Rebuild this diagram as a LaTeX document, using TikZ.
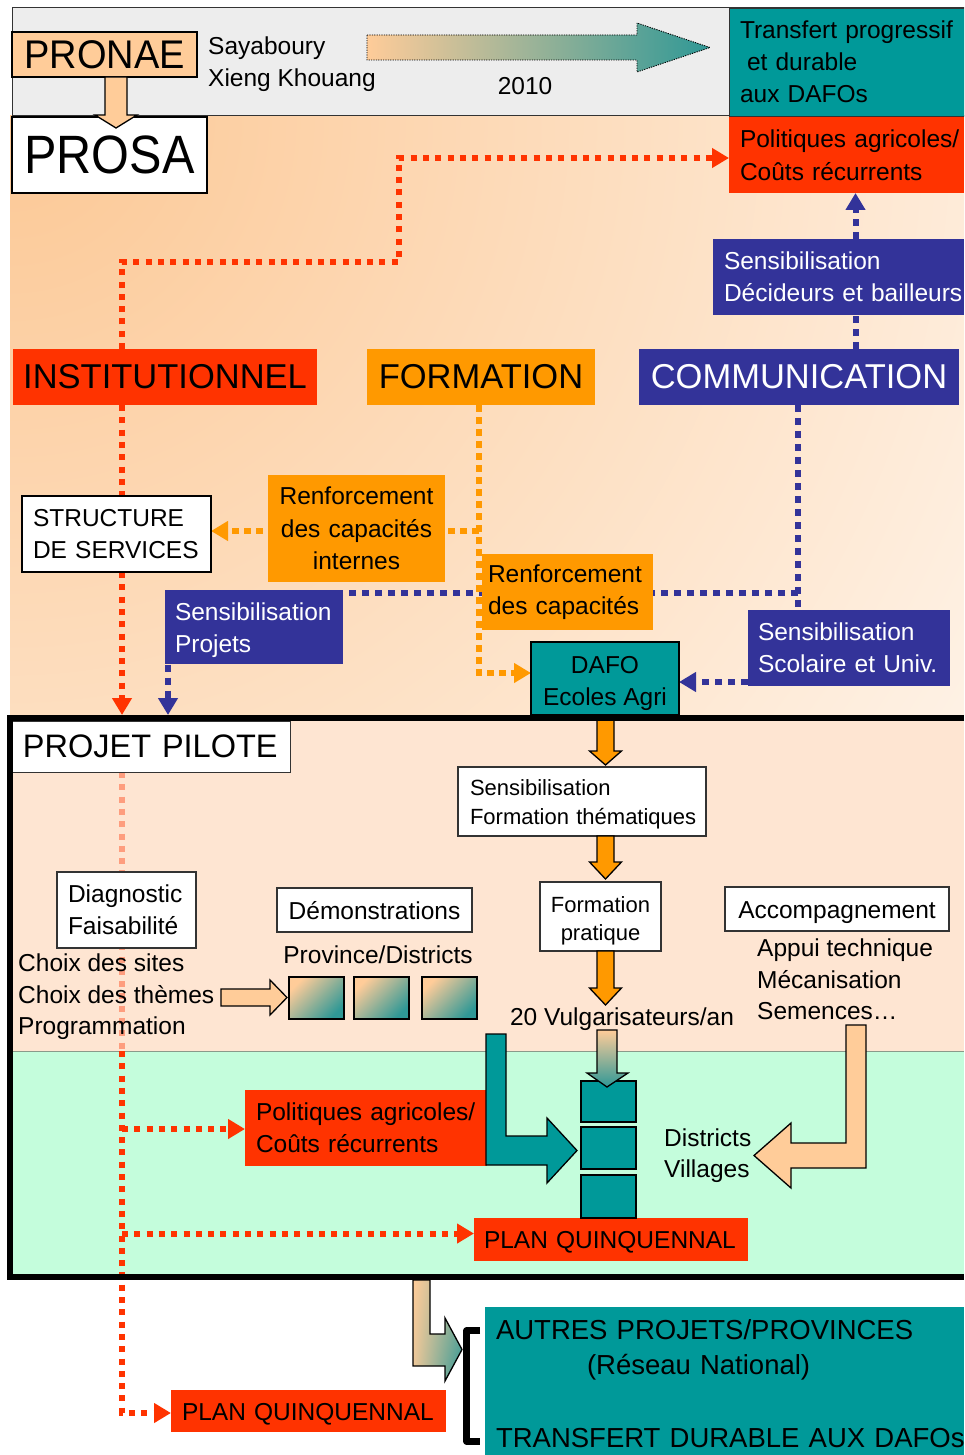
\documentclass[tikz,border=0pt]{standalone}
\usepackage{fontspec}
\usepackage{graphicx}
\setmainfont{Liberation Sans}
\usetikzlibrary{arrows.meta,shadings}
\pgfdeclarelayer{back}
\pgfdeclarelayer{lines}
\pgfsetlayers{back,lines,main}

\definecolor{cRed}{HTML}{FF3300}
\definecolor{cOrange}{HTML}{FF9900}
\definecolor{cBlue}{HTML}{333399}
\definecolor{cTeal}{HTML}{009999}
\definecolor{cPeach}{HTML}{FFCC99}
\definecolor{cBand}{HTML}{EDEDED}
\definecolor{cBgPeach}{HTML}{FCC895}
\definecolor{cPilotBg}{HTML}{FEE5D2}
\definecolor{cMint}{HTML}{C4FDDC}
\definecolor{cShadeTeal}{HTML}{2F9896}
\definecolor{cEdge}{HTML}{333333}
\definecolor{cSep}{HTML}{8A9A8A}

% font size with hyphenation switched off
\newcommand\setfs[2]{\fontsize{#1}{#2}\selectfont\hyphenpenalty=10000\exhyphenpenalty=10000\relax}

\tikzset{
  blk/.style 2 args={anchor=north west, inner sep=0pt, outer sep=0pt,
    minimum width=#1, minimum height=#2},
  bodytxt/.style={font=\setfs{24.5}{32}},
  oneline/.style={text height=18pt, text depth=0pt},
  lefttext/.style={align=left, text width=#1},
  whitebox/.style={fill=white, draw=cEdge, line width=1.2pt},
  dotline/.style={line width=6pt, dash pattern=on 6pt off 6.3pt},
  reddots/.style={dotline, draw=cRed},
  bluedots/.style={dotline, draw=cBlue, dash pattern=on 7pt off 6pt},
  orangedots/.style={dotline, draw=cOrange, line width=5.5pt, dash pattern=on 7pt off 5pt},
  endtip/.style={-{Triangle[length=17pt,width=19pt]}},
  blockarrow/.style={draw=black, line width=1.3pt},
  plotshade/.style={top color=cPeach, middle color=cPeach!72!cShadeTeal,
    bottom color=cShadeTeal, shading angle=45},
}

\begin{document}
\begin{tikzpicture}[x=1pt, y=-1pt]
\useasboundingbox (0,0) rectangle (964,1455);
\clip (0,0) rectangle (964,1455);

% ---------- backgrounds ----------
\begin{pgfonlayer}{back}
  \begin{scope}
    \clip (0,0) rectangle (964,1455);
    \fill[cBand] (12,8) rectangle (964,116);
    \begin{scope}
      \clip (10,116) rectangle (964,715);
      \shade[inner color=cBgPeach, outer color=white] (10,116) circle (1500pt);
    \end{scope}
    \fill[cPilotBg] (10,718) rectangle (964,1051);
    \fill[cMint] (10,1051) rectangle (964,1277);
    \draw[cSep, line width=1pt] (13,1051) -- (964,1051);
  \end{scope}
\end{pgfonlayer}
\draw[cEdge, line width=1pt] (12,8) rectangle (980,116);

% ---------- top band ----------
\node[blk={235pt}{108pt}, fill=cTeal, draw=cEdge, line width=.8pt, bodytxt, lefttext=213pt]
  (transf) at (729,8) {Transfert~progressif\\\hspace*{7pt}et~durable\\aux~DAFOs};
\node[blk={235pt}{76pt}, fill=cRed, font=\setfs{24.5}{33}, lefttext=213pt]
  (polTop) at (729,117) {Politiques~agricoles/\\Coûts~récurrents};
\node[blk={185pt}{45pt}, fill=cPeach, draw=black, line width=1.5pt, font=\setfs{40}{42}]
  (pronae) at (12,32) {\scalebox{0.95}[1]{PRONAE}};
\node[blk={195pt}{76pt}, fill=white, draw=black, line width=1.2pt, font=\setfs{54}{56}]
  (prosa) at (12,117) {\scalebox{0.9}[1]{PROSA}};
\filldraw[fill=cPeach, blockarrow] ([xshift=0.5pt]pronae.south) -- ++(22,0) -- ++(0,38)
  -- ++(10,0) -- ++(-21,13) -- ++(-21,-13) -- ++(10,0) -- cycle;
\node[anchor=north west, inner sep=0pt, bodytxt, align=left] (sites) at (208,37)
  {Sayaboury\\Xieng Khouang};
\shadedraw[left color=cPeach, right color=cShadeTeal, draw=black, line width=0.9pt,
  dash pattern=on 1.2pt off 1.2pt]
  (367,35) -- (637,35) -- (637,23) -- (710,47.5) -- (637,72) -- (637,60) -- (367,60) -- cycle;
\node[anchor=base, inner sep=0pt, bodytxt] (year) at (525,95) {2010};

% ---------- upper level ----------
\node[blk={251pt}{76pt}, fill=cBlue, text=white, bodytxt, lefttext=229pt]
  (sensD) at (713,239) {Sensibilisation\\Décideurs~et~bailleurs};
\node[blk={304pt}{56pt}, fill=cRed, font=\setfs{34.5}{36}] (inst) at (13,349) {INSTITUTIONNEL};
\node[blk={228pt}{56pt}, fill=cOrange, font=\setfs{34.5}{36}] (form) at (367,349) {FORMATION};
\node[blk={320pt}{56pt}, fill=cBlue, text=white, font=\setfs{34.5}{36}] (comm) at (639,349) {COMMUNICATION};
\node[blk={189pt}{76pt}, fill=white, draw=black, line width=1.2pt, bodytxt, lefttext=167pt]
  (struct) at (22,496) {STRUCTURE\\DE~SERVICES};
\node[blk={177pt}{107pt}, fill=cOrange, font=\setfs{24.5}{32.5}, align=center, text width=170pt]
  (renfI) at (268,475) {Renforcement\\des~capacités\\internes};
\node[blk={171pt}{76pt}, fill=cOrange, bodytxt, lefttext=159pt]
  (renf) at (482,554) {Renforcement\\des~capacités};
\node[blk={178pt}{74pt}, fill=cBlue, text=white, bodytxt, lefttext=158pt]
  (sensP) at (165,590) {\rule{0pt}{24pt}Sensibilisation\\Projets};
\node[blk={148pt}{73pt}, fill=cTeal, draw=black, line width=1.5pt, bodytxt, align=center]
  (dafo) at (531,642) {\rule{0pt}{28pt}DAFO\\Ecoles Agri};
\node[blk={202pt}{76pt}, fill=cBlue, text=white, bodytxt, lefttext=182pt]
  (sensS) at (748,610) {Sensibilisation\\Scolaire~et~Univ.};

% ---------- pilot project ----------
\node[blk={278pt}{51pt}, fill=white, draw=cEdge, line width=1pt, font=\setfs{32.5}{34}, lefttext=256pt]
  (pilotL) at (12,721) {PROJET~PILOTE};
\node[blk={248pt}{69pt}, whitebox, font=\setfs{22}{29}, lefttext=224pt]
  (sensF) at (458,767) {\rule{0pt}{22pt}Sensibilisation\\Formation~thématiques};
\node[blk={121pt}{69pt}, whitebox, font=\setfs{22}{28}, align=center]
  (formP) at (540,882) {\rule{0pt}{25pt}Formation\\pratique};
\node[anchor=base, inner sep=0pt, bodytxt] (vulg) at (622,1025) {20 Vulgarisateurs/an};
\node[blk={224pt}{44pt}, whitebox, bodytxt, oneline] (accomp) at (725,887) {Accompagnement};
\node[anchor=north west, inner sep=0pt, font=\setfs{24.5}{31.5}, align=left]
  (appui) at (757,939) {Appui technique\\Mécanisation\\Semences…};
\node[blk={139pt}{76pt}, whitebox, bodytxt, lefttext=117pt]
  (diag) at (57,872) {Diagnostic\\Faisabilité};
\node[anchor=north west, inner sep=0pt, font=\setfs{24.5}{31.5}, align=left]
  (choix) at (18,954) {Choix des sites\\Choix des thèmes\\Programmation};
\node[blk={195pt}{44pt}, whitebox, bodytxt, oneline] (demo) at (277,888) {Démonstrations};
\node[anchor=base, inner sep=0pt, bodytxt] (prov) at (378,963) {Province/Districts};

% demonstration plots
\foreach \i/\x in {1/289, 2/354, 3/422}
  \node[blk={55pt}{42pt}, draw=black, line width=1.8pt, plotshade] (sq\i) at (\x,977) {};
\filldraw[fill=cPeach, blockarrow] (221,989) -- (270,989) -- (270,980) -- (287,997.5)
  -- (270,1015) -- (270,1006) -- (221,1006) -- cycle;

% orange steps
\filldraw[fill=cOrange, blockarrow] (597,718) -- ++(17,0) -- ++(0,33) -- ++(7.5,0)
  -- ++(-16,14) -- ++(-16,-14) -- ++(7.5,0) -- cycle;
\filldraw[fill=cOrange, blockarrow] (sensF.south -| 597,0) -- ++(17,0) -- ++(0,26) -- ++(7.5,0)
  -- ++(-16,17) -- ++(-16,-17) -- ++(7.5,0) -- cycle;
\filldraw[fill=cOrange, blockarrow] (formP.south -| 597,0) -- ++(17,0) -- ++(0,37) -- ++(7.5,0)
  -- ++(-16,17) -- ++(-16,-17) -- ++(7.5,0) -- cycle;

% lower part
\node[blk={242pt}{76pt}, fill=cRed, bodytxt, lefttext=220pt]
  (polIn) at (245,1090) {Politiques~agricoles/\\Coûts~récurrents};
\node[blk={274pt}{43pt}, fill=cRed, bodytxt, oneline, lefttext=254pt]
  (planIn) at (474,1218) {PLAN~QUINQUENNAL};
\node[blk={55pt}{41pt}, fill=cTeal, draw=black, line width=2pt] (st1) at (581,1081) {};
\node[blk={55pt}{42pt}, fill=cTeal, draw=black, line width=2pt] (st2) at (581,1127) {};
\node[blk={55pt}{43pt}, fill=cTeal, draw=black, line width=2pt] (st3) at (581,1175) {};
\shadedraw[top color=cPeach, bottom color=cShadeTeal, blockarrow]
  (597,1030) -- (617,1030) -- (617,1073) -- (628,1073) -- (607,1087) -- (587,1073) -- (597,1073) -- cycle;
\filldraw[fill=cTeal, blockarrow] (486,1034) -- (506,1034) -- (506,1136) -- (547,1136)
  -- (547,1118) -- (577,1150.5) -- (547,1183) -- (547,1165) -- (486,1165) -- cycle;
\filldraw[fill=cPeach, blockarrow] (846,1025) -- (866,1025) -- (866,1168) -- (791,1168)
  -- (791,1188) -- (754,1155.5) -- (791,1123) -- (791,1143) -- (846,1143) -- cycle;
\node[anchor=north west, inner sep=0pt, font=\setfs{24.5}{31}, align=left]
  (distr) at (664,1129) {Districts\\Villages};

% frame of the pilot project: open on the right, where it runs off the page
\node[inner sep=0pt, outer sep=3pt, minimum width=1000pt, minimum height=559pt,
  anchor=north west] (pilot) at (7,715) {};
\draw[line width=6pt, line join=miter] (964,718) -- (10,718) -- (10,1277) -- (964,1277);

% ---------- below the pilot ----------
\node[blk={275pt}{42pt}, fill=cRed, bodytxt, oneline, lefttext=253pt]
  (planB) at (171,1390) {PLAN~QUINQUENNAL};
\node[blk={479pt}{148pt}, fill=cTeal, font=\setfs{27.5}{35}, lefttext=457pt]
  (autres) at (485,1307) {\rule{0pt}{26pt}AUTRES~PROJETS/PROVINCES\\\hspace*{91pt}(Réseau~National)\\[38pt]TRANSFERT~DURABLE~AUX~DAFOs};
\shadedraw[upper left=cPeach, lower left=cPeach!90!cShadeTeal, upper right=cPeach!45!cShadeTeal,
  lower right=cShadeTeal, blockarrow]
  (413,1280) -- (430,1280) -- (430,1334) -- (445,1334) -- (445,1318) -- (462,1349.5)
  -- (445,1381) -- (445,1366) -- (413,1366) -- cycle;
\draw[line width=6.5pt, line join=round] (480,1330.5) -- (466.5,1330.5) -- (466.5,1441.5) -- (480,1441.5);

% ---------- dotted connectors ----------
\begin{pgfonlayer}{lines}
  % institutional path
  \coordinate (ra) at (122,262);
  \coordinate (rb) at (399,262);
  \coordinate (rc) at (399,158);
  \draw[reddots, endtip] (inst.north -| ra) -- (ra) -- (rb) -- (rc) -- (rc -| polTop.west);
  \draw[reddots] (inst.south -| ra) -- (struct.north -| ra);
  \draw[reddots, endtip] (struct.south -| ra) -- (pilot.north -| ra);
  \coordinate (rs) at (122,1051);
  \draw[reddots, opacity=.4] (pilotL.south -| ra) -- (rs);
  \coordinate (rd) at (122,1413);
  \draw[reddots, endtip] (rs) -- (rd) -- (rd -| planB.west);
  \coordinate (re) at (122,1129);
  \draw[reddots, endtip] (re) -- (re -| polIn.west);
  \coordinate (rf) at (122,1233.5);
  \draw[reddots, endtip] (rf) -- (rf -| planIn.west);
  % communication paths
  \coordinate (bx) at (855.5,0);
  \draw[bluedots] (comm.north -| bx) -- (sensD.south -| bx);
  \draw[bluedots, endtip] (sensD.north -| bx) -- (polTop.south -| bx);
  \coordinate (bb) at (798,592.5);
  \draw[bluedots] (comm.south -| bb) -- (sensS.north -| bb);
  \coordinate (bc) at (168,592.5);
  \draw[bluedots, endtip] (bb) -- (bc) -- (pilot.north -| bc);
  \coordinate (bd) at (0,682);
  \draw[bluedots, endtip] (sensS.west |- bd) -- (dafo.east |- bd);
  % training paths
  \coordinate (oa) at (479,531);
  \coordinate (ob) at (479,673);
  \draw[orangedots, endtip] (form.south -| oa) -- (ob) -- (ob -| dafo.west);
  \draw[orangedots, endtip] (oa) -- (oa -| struct.east);
\end{pgfonlayer}
\end{tikzpicture}
\end{document}
